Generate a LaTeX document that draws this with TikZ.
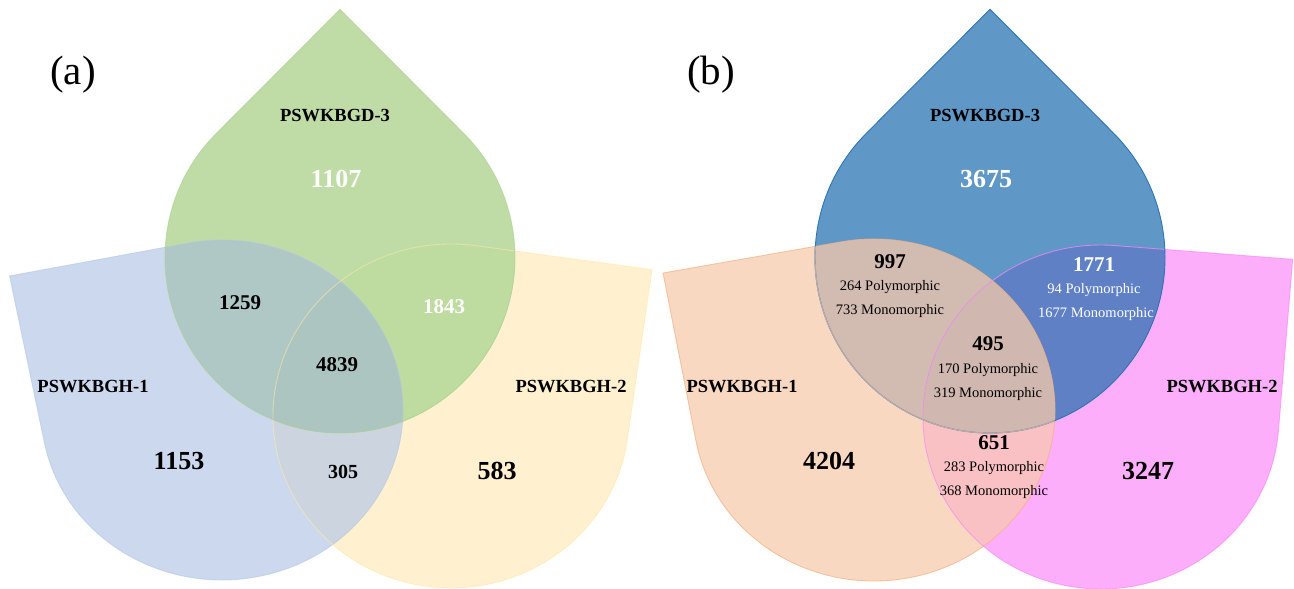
\documentclass[tikz,border=0pt]{standalone}
\usepackage{fontspec}
\setmainfont{Liberation Serif}
\definecolor{gA}{HTML}{BFDCA7}
\definecolor{bA}{HTML}{CBD8EE}
\definecolor{yA}{HTML}{FFF1CF}
\definecolor{bgA}{HTML}{AFC8C6}
\definecolor{gyA}{HTML}{BEDBA0}
\definecolor{byA}{HTML}{CCD4DF}
\definecolor{bgyA}{HTML}{ADC5C0}
\definecolor{gAl}{HTML}{A9D18E}
\definecolor{bAl}{HTML}{B4C7E7}
\definecolor{yAl}{HTML}{FFE8A8}
\definecolor{tB}{HTML}{5F97C7}
\definecolor{oB}{HTML}{F9D8C2}
\definecolor{pB}{HTML}{FDAEFB}
\definecolor{toB}{HTML}{D2BCB2}
\definecolor{tpB}{HTML}{6080C5}
\definecolor{opB}{HTML}{F9C1C4}
\definecolor{topB}{HTML}{D0B8B0}
\definecolor{tBl}{HTML}{2E75B6}
\definecolor{tBsoft}{HTML}{B9AAA8}
\definecolor{oBl}{HTML}{F4B183}
\definecolor{pBl}{HTML}{F98BF5}
% teardrop: options, cx, cy, a, b, tip angle
\newcommand\tdrop[6]{\path[#1,shift={(#2,#3)},xscale=#4,yscale=#5]
  ({#6}:1.41421) -- ({#6+45}:1) arc[start angle={#6+45}, end angle={#6+315}, radius=1] -- cycle;}
\tikzset{
  setlabel/.style={font=\fontsize{18.5}{20}\selectfont\bfseries},
  bignum/.style={font=\fontsize{26}{28}\selectfont\bfseries},
  midnum/.style={font=\fontsize{21}{23}\selectfont\bfseries},
  smalltxt/.style={font=\fontsize{14.5}{16}\selectfont},
  panel/.style={font=\fontsize{41}{44}\selectfont},
  edge/.style={line width=0.9pt}
}
\begin{document}
\begin{tikzpicture}[x=1pt,y=-1pt]
\useasboundingbox (0,0) rectangle (1294,589);
% ---------- panel (a) ----------
\tdrop{fill=bA}{222}{410}{181}{170}{213.9}
\tdrop{fill=yA}{451}{416}{178}{172}{323}
\tdrop{fill=gA}{340}{257.5}{175}{175.5}{270}
\begin{scope}
 \tdrop{clip}{222}{410}{181}{170}{213.9}
 \tdrop{fill=byA}{451}{416}{178}{172}{323}
 \tdrop{fill=bgA}{340}{257.5}{175}{175.5}{270}
\end{scope}
\begin{scope}
 \tdrop{clip}{451}{416}{178}{172}{323}
 \tdrop{fill=gyA}{340}{257.5}{175}{175.5}{270}
\end{scope}
\begin{scope}
 \tdrop{clip}{222}{410}{181}{170}{213.9}
 \tdrop{clip}{451}{416}{178}{172}{323}
 \tdrop{fill=bgyA}{340}{257.5}{175}{175.5}{270}
\end{scope}
\tdrop{draw=bAl,edge,draw opacity=0.55}{222}{410}{181}{170}{213.9}
\tdrop{draw=yAl,edge,draw opacity=0.55}{451}{416}{178}{172}{323}
\tdrop{draw=gAl,edge,draw opacity=0.6}{340}{257.5}{175}{175.5}{270}
% ---------- panel (b) ----------
\tdrop{fill=oB}{874}{410}{181}{171}{214.5}
\tdrop{fill=pB}{1101}{417}{178}{172}{319.6}
\tdrop{fill=tB}{990}{257.5}{175}{175.5}{270}
\begin{scope}
 \tdrop{clip}{874}{410}{181}{171}{214.5}
 \tdrop{fill=opB}{1101}{417}{178}{172}{319.6}
 \tdrop{fill=toB}{990}{257.5}{175}{175.5}{270}
\end{scope}
\begin{scope}
 \tdrop{clip}{1101}{417}{178}{172}{319.6}
 \tdrop{fill=tpB}{990}{257.5}{175}{175.5}{270}
\end{scope}
\begin{scope}
 \tdrop{clip}{874}{410}{181}{171}{214.5}
 \tdrop{clip}{1101}{417}{178}{172}{319.6}
 \tdrop{fill=topB}{990}{257.5}{175}{175.5}{270}
\end{scope}
\tdrop{draw=oBl,edge,draw opacity=0.7}{874}{410}{181}{171}{214.5}
\tdrop{draw=pBl,edge,draw opacity=0.7}{1101}{417}{178}{172}{319.6}
\tdrop{draw=tBl,edge}{990}{257.5}{175}{175.5}{270}
\begin{scope}
 \tdrop{clip}{874}{410}{181}{171}{214.5}
 \tdrop{draw=tBsoft,line width=1.2pt}{990}{257.5}{175}{175.5}{270}
\end{scope}
% ---------- labels (a) ----------
\node[panel] (pa) at (73,75) {(a)};
\node[setlabel] (la3) at (335,116) {PSWKBGD-3};
\node[setlabel] (la1) at (93,387) {PSWKBGH-1};
\node[setlabel] (la2) at (571,387) {PSWKBGH-2};
\node[bignum,white] (na1) at (336,179) {1107};
\node[midnum] (na2) at (240,303) {1259};
\node[midnum,white] (na3) at (444,307) {1843};
\node[midnum] (na4) at (337,365) {4839};
\node[bignum] (na5) at (179,461) {1153};
\node[midnum,font=\fontsize{20}{22}\selectfont\bfseries] (na6) at (343,472) {305};
\node[bignum] (na7) at (497,471) {583};
% ---------- labels (b) ----------
\node[panel] (pb) at (711,75) {(b)};
\node[setlabel] (lb3) at (985,116) {PSWKBGD-3};
\node[setlabel] (lb1) at (742,387) {PSWKBGH-1};
\node[setlabel] (lb2) at (1222,387) {PSWKBGH-2};
\node[bignum,white] (nb1) at (986,179) {3675};
\node[midnum] (nb2) at (890,262) {997};
\node[smalltxt] (nb2p) at (890,287) {264 Polymorphic};
\node[smalltxt] (nb2m) at (890,311) {733 Monomorphic};
\node[midnum,white] (nb3) at (1094,265) {1771};
\node[smalltxt,white] (nb3p) at (1094,290) {94 Polymorphic};
\node[smalltxt,white] (nb3m) at (1096,314) {1677 Monomorphic};
\node[midnum] (nb4) at (988,344) {495};
\node[smalltxt] (nb4p) at (988,370) {170 Polymorphic};
\node[smalltxt] (nb4m) at (988,394) {319 Monomorphic};
\node[midnum] (nb5) at (994,443) {651};
\node[smalltxt] (nb5p) at (994,468) {283 Polymorphic};
\node[smalltxt] (nb5m) at (994,492) {368 Monomorphic};
\node[bignum] (nb6) at (829,461) {4204};
\node[bignum] (nb7) at (1148,471) {3247};
\end{tikzpicture}
\end{document}
